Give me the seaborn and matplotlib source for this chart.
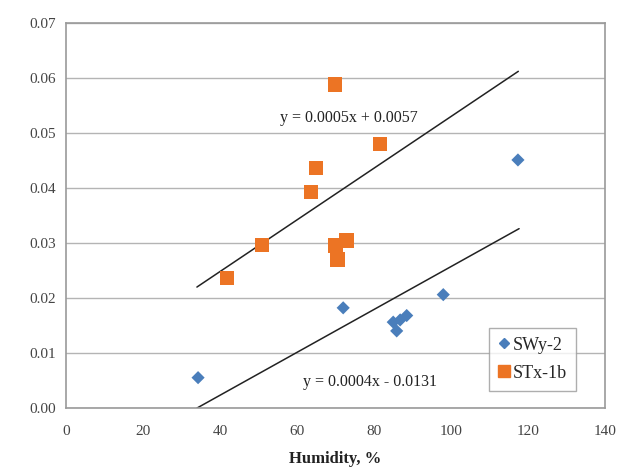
import matplotlib
matplotlib.use("Agg")
import matplotlib.pyplot as plt
import seaborn as sns
import pandas as pd
import numpy as np

# SWy-2 (blue diamonds)
swy_x = [34.3, 72.0, 85.0, 85.9, 86.8, 88.5, 98.0, 117.4]
swy_y = [0.0055, 0.0182, 0.0156, 0.0140, 0.0160, 0.0168, 0.0206, 0.0451]

# STx-1b (orange squares)
stx_x = [41.8, 50.9, 63.6, 64.9, 69.9, 70.0, 70.5, 72.9, 81.6]
stx_y = [0.0236, 0.0296, 0.0393, 0.0436, 0.0588, 0.0295, 0.0270, 0.0304, 0.0480]

# trend lines (as drawn)
upper_x = [34, 117.5]
upper_coef = (0.00047, 0.0060)
lower_x = [34, 117.7]
lower_coef = (0.00039, -0.0133)
upper_label = "y = 0.0005x + 0.0057"
lower_label = "y = 0.0004x - 0.0131"

blue = "#4A7EBB"
orange = "#EC7424"
grey = "#9A9A9A"

sns.set_style("white")
plt.rcParams["font.family"] = ["Liberation Serif", "DejaVu Serif"]

df = pd.concat([
    pd.DataFrame({"x": swy_x, "y": swy_y, "s": "SWy-2"}),
    pd.DataFrame({"x": stx_x, "y": stx_y, "s": "STx-1b"}),
])

fig = plt.figure(figsize=(6.23, 4.71), dpi=100)
ax = fig.add_axes([0.106, 0.134, 0.865, 0.817])

ax.grid(axis="y", color="#B4B4B4", linewidth=1.0)
ax.set_axisbelow(True)

for xs, (m, b) in [(upper_x, upper_coef), (lower_x, lower_coef)]:
    xs = np.array(xs)
    ax.plot(xs, m * xs + b, color="#222222", linewidth=1.1, zorder=2)

sns.scatterplot(data=df, x="x", y="y", hue="s", style="s",
                markers={"SWy-2": "D", "STx-1b": "s"},
                palette={"SWy-2": blue, "STx-1b": orange},
                size="s", sizes={"SWy-2": 45, "STx-1b": 110},
                linewidth=0, ax=ax, zorder=3, legend=False)

ax.text(73.5, 0.0527, upper_label, ha="center", va="center", fontsize=11.5,
        color="#222222", zorder=4)
ax.text(79, 0.0047, lower_label, ha="center", va="center", fontsize=11.5,
        color="#222222", zorder=4)

ax.set_xlim(0, 140)
ax.set_ylim(0, 0.07)
ax.set_xticks(range(0, 141, 20))
ax.set_yticks(np.arange(0, 0.0701, 0.01))
ax.set_yticklabels([f"{v:.2f}" for v in np.arange(0, 0.0701, 0.01)])
ax.tick_params(axis="both", labelsize=11, colors="#444444", direction="out",
               length=4, width=1, color=grey)
ax.tick_params(axis="x", pad=8)
for sp in ax.spines.values():
    sp.set_color(grey)
    sp.set_linewidth(1.2)

ax.set_xlabel("Humidity, %", fontsize=12, fontweight="bold", color="#222222",
              labelpad=10)
ax.set_ylabel("")

handles = [
    plt.Line2D([], [], marker="D", linestyle="", color=blue, markersize=5),
    plt.Line2D([], [], marker="s", linestyle="", color=orange, markersize=8),
]
leg = ax.legend(handles, ["SWy-2", "STx-1b"], loc="lower left",
                bbox_to_anchor=(0.785, 0.045), frameon=True, fancybox=False,
                fontsize=13, handlelength=0.6, handletextpad=0.2,
                borderpad=0.5, labelspacing=0.6, borderaxespad=0)
leg.get_frame().set_edgecolor(grey)
leg.get_frame().set_linewidth(1.0)

fig.savefig("out.png", dpi=100)
